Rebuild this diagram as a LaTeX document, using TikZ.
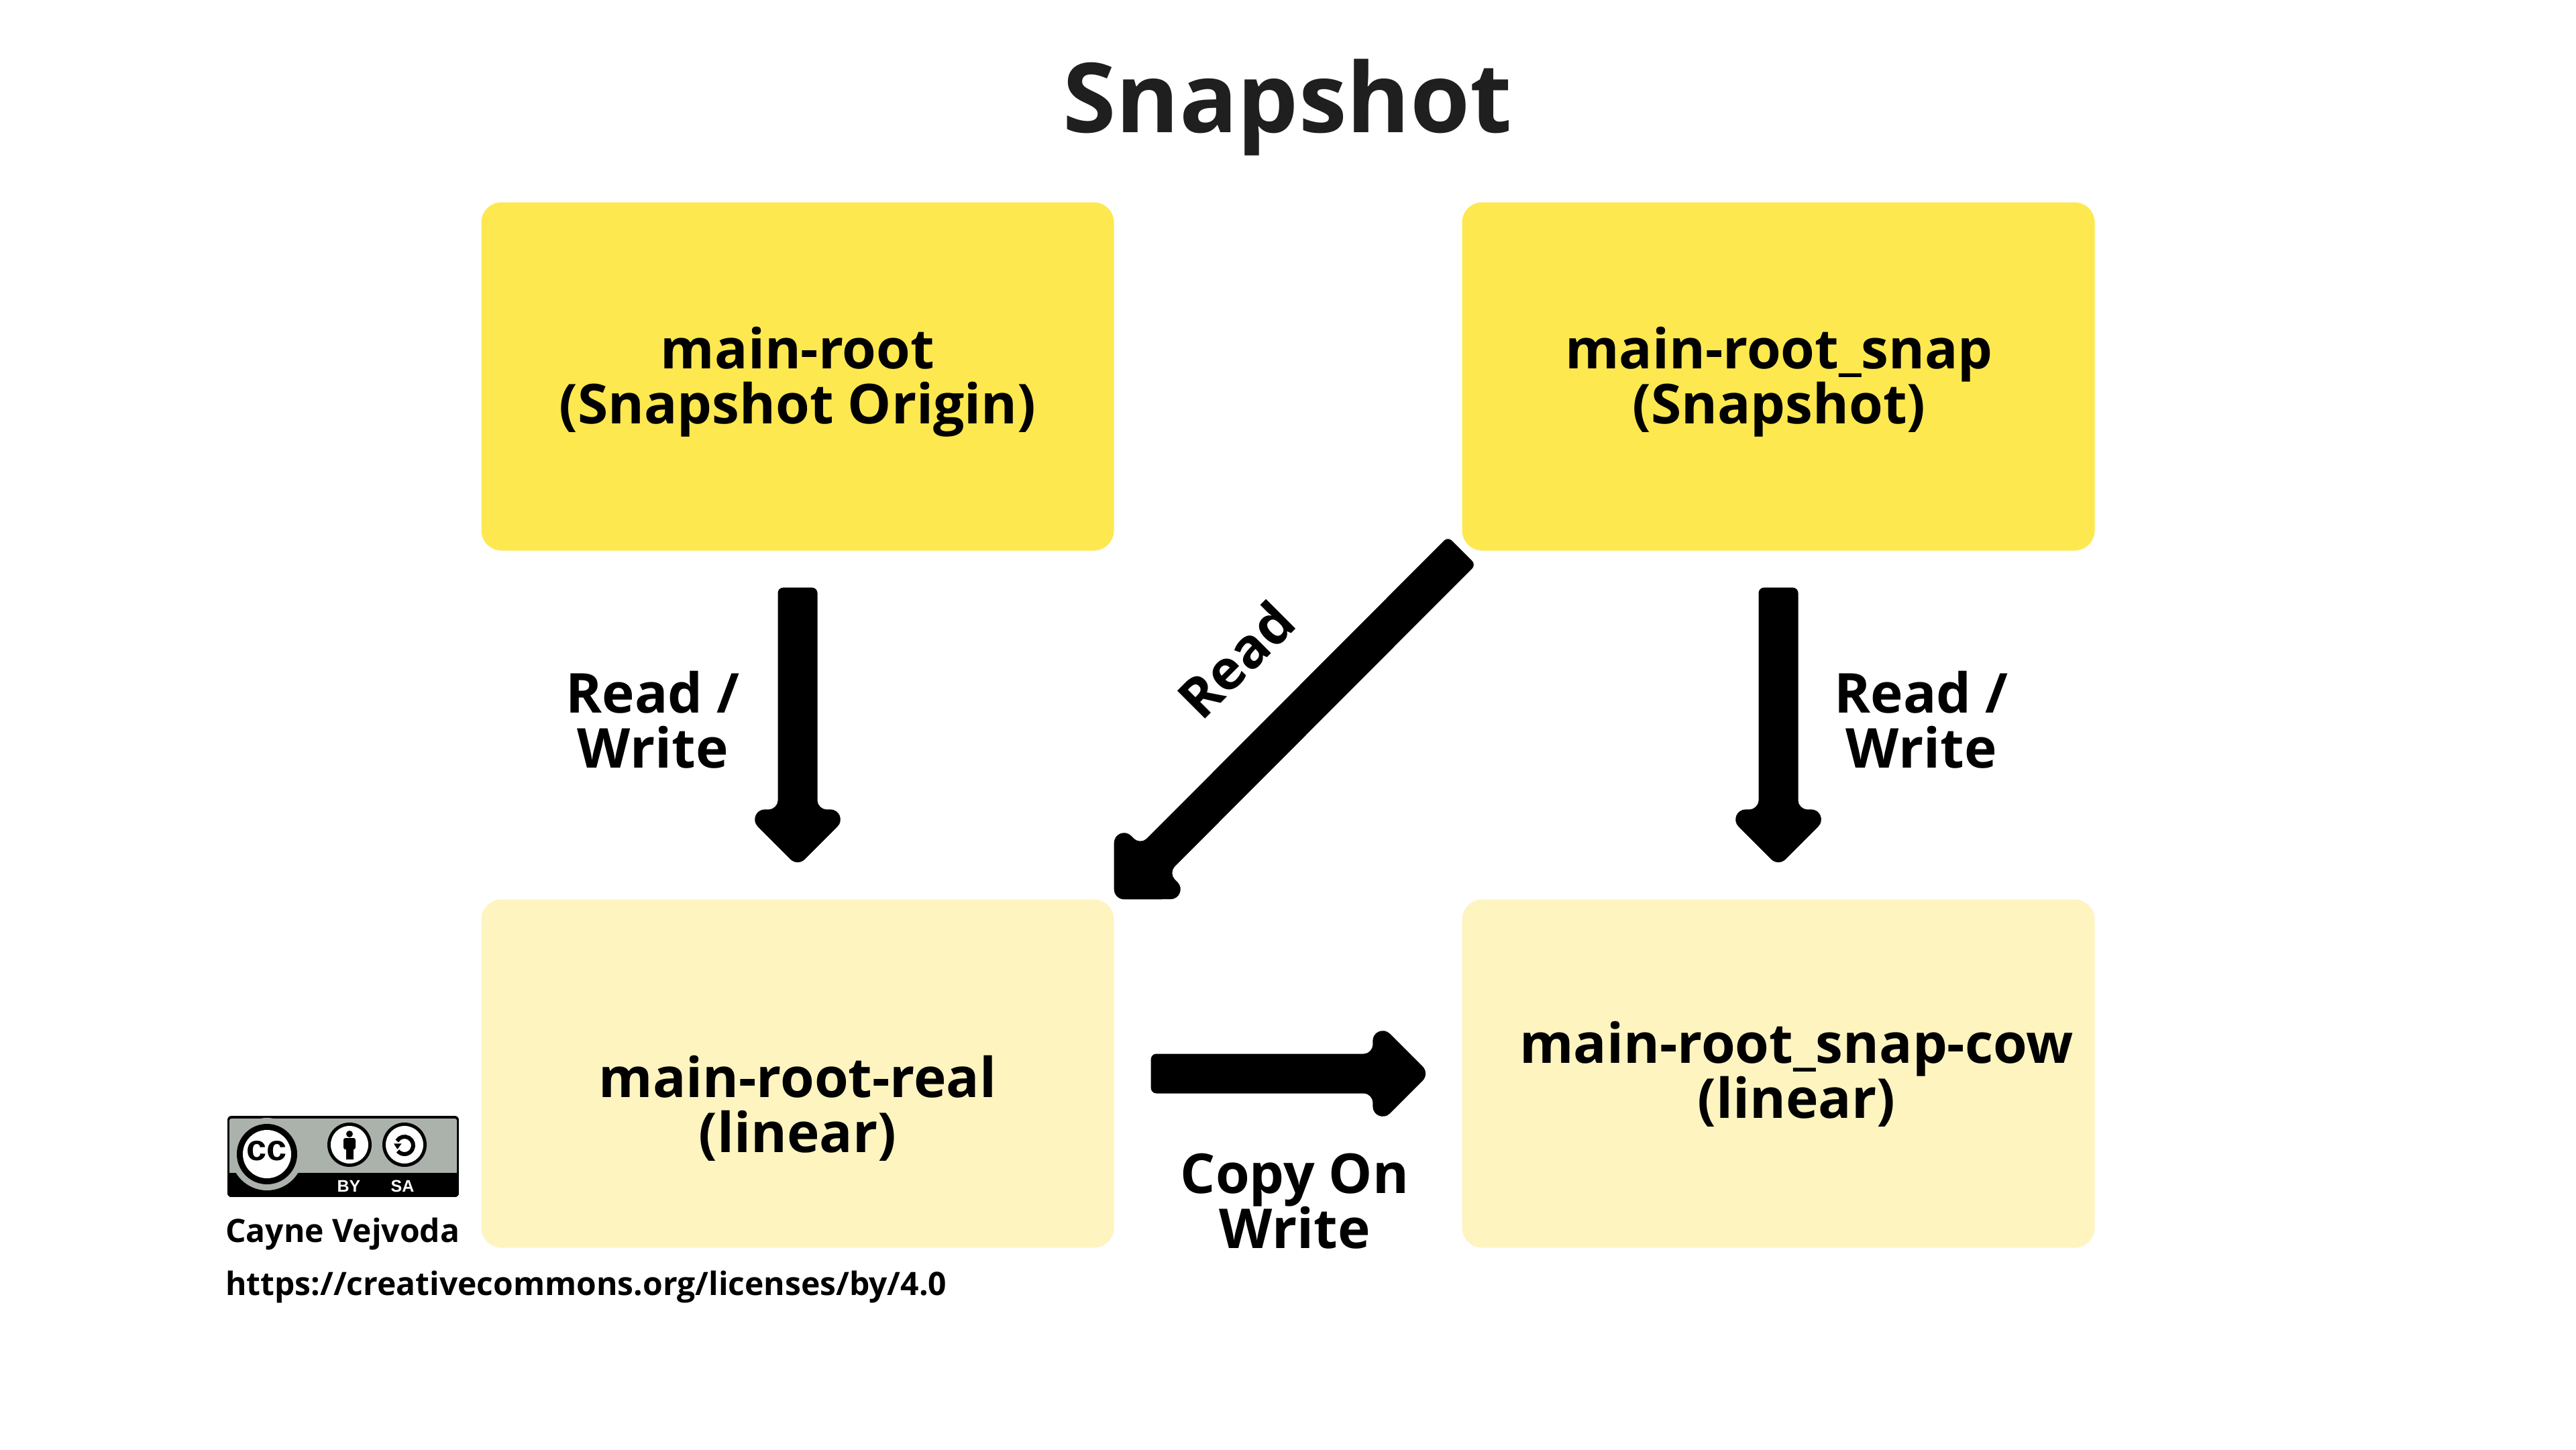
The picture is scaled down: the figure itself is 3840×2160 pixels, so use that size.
\documentclass[tikz,border=0pt]{standalone}
\usepackage{fontspec}
\setmainfont{Open Sans}
\newfontfamily\badgefont{Liberation Sans}
\usetikzlibrary{calc}
\definecolor{titlegrey}{HTML}{1F1F1F}
\definecolor{boxstrong}{HTML}{FEE84F}
\definecolor{boxpale}{HTML}{FDF4C0}
\definecolor{badgegrey}{HTML}{AAB2AB}
\tikzset{
  panel/.style={rectangle,rounded corners=30pt,minimum width=943pt,minimum height=519pt,inner sep=0pt,draw=none},
  strongpanel/.style={panel,fill=boxstrong},
  palepanel/.style={panel,fill=boxpale},
  labeltext/.style={align=center,inner sep=0pt,text=black,font=\fontsize{82}{82}\selectfont\bfseries},
  creditstext/.style={anchor=west,inner sep=0pt,text=black,font=\fontsize{48}{50}\selectfont\bfseries},
  badgetext/.style={inner sep=0pt,text=white,font=\badgefont\fontsize{25}{25}\selectfont\bfseries},
  arrowfill/.style={fill=black,draw=none}
}
\newcommand\blockarrow[2]{%
  \path let \p1=($(#2)-(#1)$) in \pgfextra{%
    \pgfmathsetmacro\ArrAngTmp{atan2(\y1,\x1)}%
    \pgfmathsetmacro\ArrLenTmp{veclen(\x1,\y1)}%
    \global\let\ArrAng\ArrAngTmp\global\let\ArrLen\ArrLenTmp};
  \fill[arrowfill,shift={(#2)},rotate=\ArrAng]
    ({-\ArrLen},21.5) .. controls ({-\ArrLen},25.9) and ({-\ArrLen+3.6},29.5) .. ({-\ArrLen+8},29.5)
    -- (-98,29.5) .. controls (-90.85,29.5) and (-85,36.65) .. (-85,42.5)
    -- (-85,48.8) .. controls (-85,62.2) and (-68.9,68.9) .. (-59.4,59.4)
    -- (-10.6,10.6) .. controls (-4.73,4.73) and (-4.73,-4.73) .. (-10.6,-10.6)
    -- (-59.4,-59.4) .. controls (-68.9,-68.9) and (-85,-62.2) .. (-85,-48.8)
    -- (-85,-42.5) .. controls (-85,-36.65) and (-90.85,-29.5) .. (-98,-29.5)
    -- ({-\ArrLen+8},-29.5) .. controls ({-\ArrLen+3.6},-29.5) and ({-\ArrLen},-25.9) .. ({-\ArrLen},-21.5)
    -- cycle;
}
\begin{document}
\begin{tikzpicture}[x=1pt,y=-1pt]
\useasboundingbox (0,0) rectangle (3840,2160);
\fill[white] (0,0) rectangle (3840,2160);

\node[inner sep=0pt,text=titlegrey,font=\fontsize{144}{144}\selectfont\bfseries] (title) at (1919,160) {Snapshot};

\node[strongpanel] (origin) at (1189,561) {};
\node[strongpanel] (snap) at (2651,561) {};
\node[palepanel] (real) at (1189,1600) {};
\node[palepanel] (cow) at (2651,1600) {};

\node[labeltext] (originlabel) at (1189,569) {main-root\\(Snapshot Origin)};
\node[labeltext] (snaplabel) at (2652,569) {main-root\_snap\\(Snapshot)};
\node[labeltext] (reallabel) at (1189,1652) {main-root-real\\(linear)};
\node[labeltext] (cowlabel) at (2678,1601) {main-root\_snap-cow\\(linear)};

\coordinate (originout) at ([yshift=-55pt]origin.south);
\coordinate (realin) at ([yshift=49pt]real.north);
\coordinate (snapout) at ([yshift=-55pt]snap.south);
\coordinate (cowin) at ([yshift=49pt]cow.north);
\coordinate (realout) at ([xshift=55pt]real.east);
\coordinate (cowside) at ([xshift=-48pt]cow.west);
\blockarrow{originout}{realin}
\blockarrow{snapout}{cowin}
\blockarrow{realout}{cowside}
\blockarrow{snap.south west}{real.north east}

\node[labeltext] (rw1) at (973,1073) {Read /\\Write};
\node[labeltext] (rw2) at (2864,1073) {Read /\\Write};
\node[labeltext] (cw) at (1930,1790) {Copy On\\Write};
\node[labeltext,rotate=45] (readlabel) at (1842,983) {Read};

% licence badge
\begin{scope}
\path[clip,rounded corners=6pt] (339,1663) rectangle (684,1784);
\fill[black] (339,1663) rectangle (684,1784);
\fill[badgegrey,rounded corners=3pt] (342,1667) rectangle (681,1760);
\fill[black] (339,1748) rectangle (684,1784);
\fill[badgegrey] (398,1720) circle[radius=54];
\end{scope}
\fill[black] (398,1720) circle[radius=45];
\fill[white] (398,1720) circle[radius=36];
\node[inner sep=0pt,text=black,font=\badgefont\fontsize{54}{54}\selectfont\bfseries] (cclabel) at (398,1715) {cc};
\fill[black] (521,1706) circle[radius=33];
\fill[white] (521,1706) circle[radius=28];
\fill[black] (521,1690) circle[radius=5];
\fill[black,rounded corners=3pt] (512,1696) rectangle (530,1713);
\fill[black] (516,1708) rectangle (526.5,1728);
\fill[black] (603,1706) circle[radius=33];
\fill[white] (603,1706) circle[radius=28];
\begin{scope}[shift={(603,1707)},y=1pt]
\draw[black,line width=6pt] (150:13) arc[start angle=150,end angle=-140,radius=13];
\fill[black] (-16,2.7) -- (-4.3,2.7) -- (-10.7,-5.7) -- cycle;
\end{scope}
\node[badgetext] (bylabel) at (520,1768) {BY};
\node[badgetext] (salabel) at (600,1768) {SA};

\node[creditstext] (author) at (336,1839) {Cayne Vejvoda};
\node[creditstext] (url) at (336,1918) {https://creativecommons.org/licenses/by/4.0};
\end{tikzpicture}
\end{document}
